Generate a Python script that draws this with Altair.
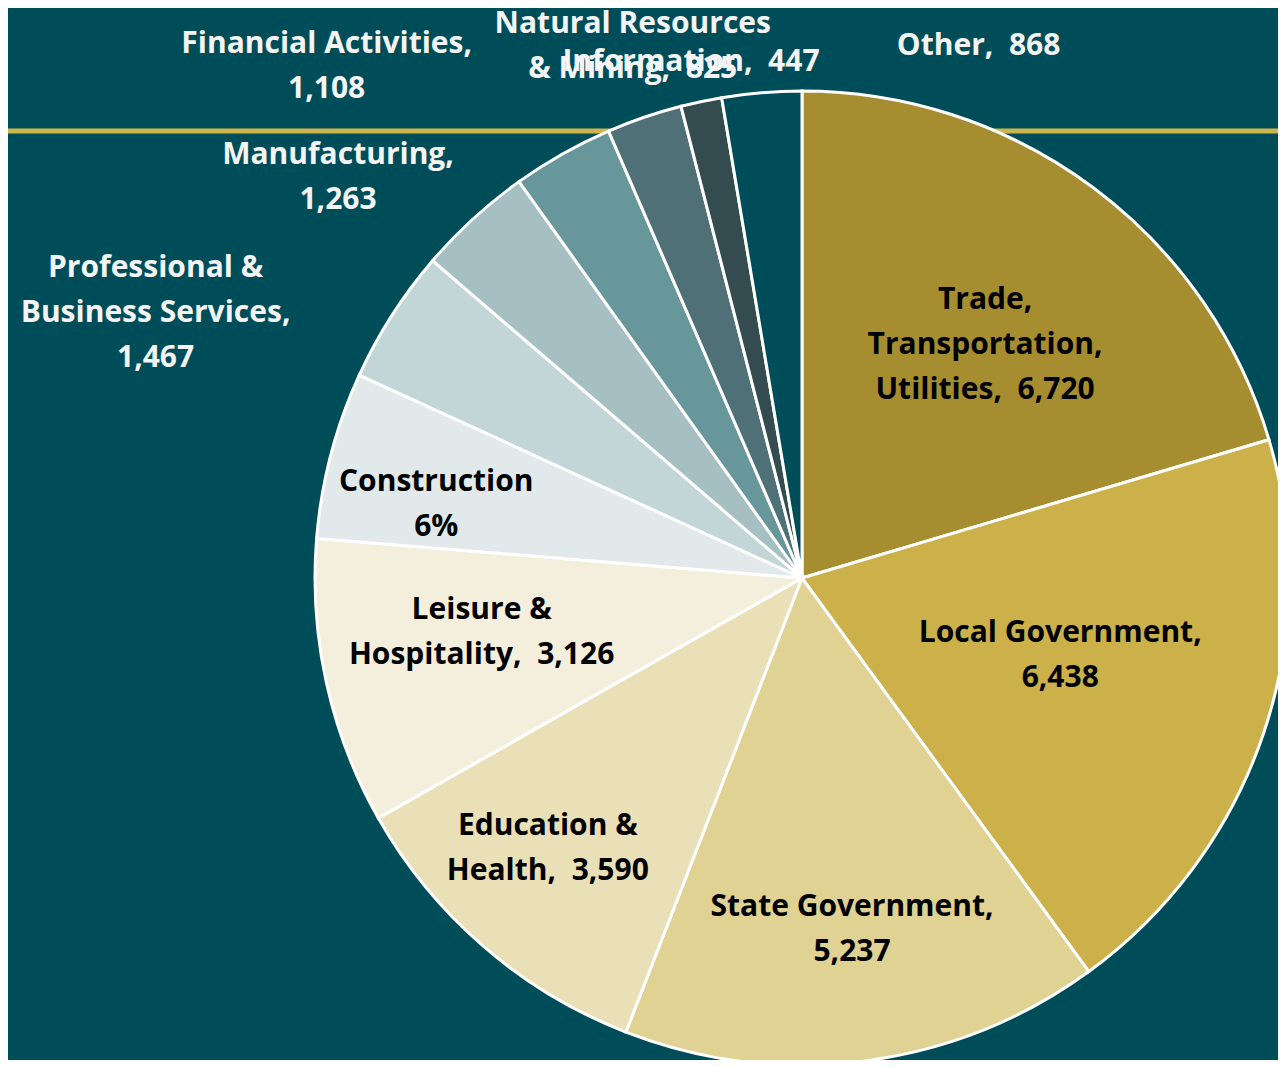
import altair as alt
import pandas as pd

# ---- data ----
categories = [
    "Trade, Transportation, Utilities", "Local Government", "State Government",
    "Education & Health", "Leisure & Hospitality", "Construction",
    "Professional & Business Services", "Manufacturing", "Financial Activities",
    "Natural Resources & Mining", "Information", "Other",
]
values = [6720, 6438, 5237, 3590, 3126, 1825, 1467, 1263, 1108, 825, 447, 868]

# label name parts (line breaks as in the reference)
label_names = [
    "Trade,\nTransportation,\nUtilities,", "Local Government,\n", "State Government,\n",
    "Education &\nHealth,", "Leisure &\nHospitality,", "Construction\n",
    "Professional &\nBusiness Services,\n", "Manufacturing,\n", "Financial Activities,\n",
    "Natural Resources\n& Mining,", "Information,", "Other,",
]
show_percent = [False, False, False, False, False, True, False, False, False, False, False, False]

# ---- styles / layout ----
slice_colors = ["#A68E30", "#CCB14A", "#DFD292", "#E9E0B7", "#F4EFDD", "#E1E9EA",
                "#C2D6D8", "#A6BFC3", "#67969B", "#4F7076", "#344B4F", "#004D5A"]
label_colors = ["#000000"] * 6 + ["#F4F4F4"] * 6
# polar placement of each label's first line (radius px, angle nudge from slice middle, deg)
label_radius = [333, 264, 333, 355, 322, 378, 717, 628, 715, 579, 528, 561]
label_nudge_deg = [-3.4, -6.7, -1.2, 4.9, 6.7, 0.0, -7.0, -5.2, -12.2, 1.9, -0.2, 23.1]

BG = "#004D5A"
W, H = 1270, 1052
CX, CY, R = 794, 570, 487

total = sum(values)
labels = []
for name, v, pct in zip(label_names, values, show_percent):
    if pct:
        txt = f"{name}{round(v / total * 100)}%"
    elif name.endswith("\n"):
        txt = f"{name}{v:,}"
    else:
        txt = f"{name}\u00a0 {v:,}"
    labels.append(txt)

df = pd.DataFrame({
    "idx": list(range(len(categories))),
    "category": categories,
    "value": values,
    "label": labels,
    "lcolor": label_colors,
    "lr": label_radius,
    "nudge": label_nudge_deg,
})

line = alt.Chart(pd.DataFrame({"k": [0]})).mark_rule(
    color="#CDB54B", strokeWidth=5
).encode(x=alt.value(0), x2=alt.value(W), y=alt.value(123))

pie = alt.Chart(df).mark_arc(
    outerRadius=R, stroke="white", strokeWidth=3
).encode(
    theta=alt.Theta("value:Q", stack=True),
    color=alt.Color("category:N", scale=alt.Scale(domain=categories, range=slice_colors), legend=None),
    order=alt.Order("idx:Q"),
    x=alt.value(CX),
    y=alt.value(CY),
)

text = alt.Chart(df).transform_joinaggregate(
    total="sum(value)"
).transform_window(
    cum="sum(value)", sort=[alt.SortField("idx")]
).transform_calculate(
    la="2*PI*(datum.cum - datum.value/2)/datum.total + datum.nudge*PI/180"
).mark_text(
    font="Open Sans", fontWeight="bold", fontSize=30, lineBreak="\n", lineHeight=45,
    align="center", baseline="middle",
).encode(
    theta=alt.Theta("la:Q", scale=None, stack=False),
    radius=alt.Radius("lr:Q", scale=None),
    text="label:N",
    color=alt.Color("lcolor:N", scale=None),
    x=alt.value(CX),
    y=alt.value(CY),
)

chart = alt.layer(line, pie, text).properties(
    width=W, height=H, padding=0, background=BG,
    autosize=alt.AutoSizeParams(type="none"),
).configure_view(stroke=None)

chart.save("out.html", embed_options={"renderer": "svg", "actions": False})
